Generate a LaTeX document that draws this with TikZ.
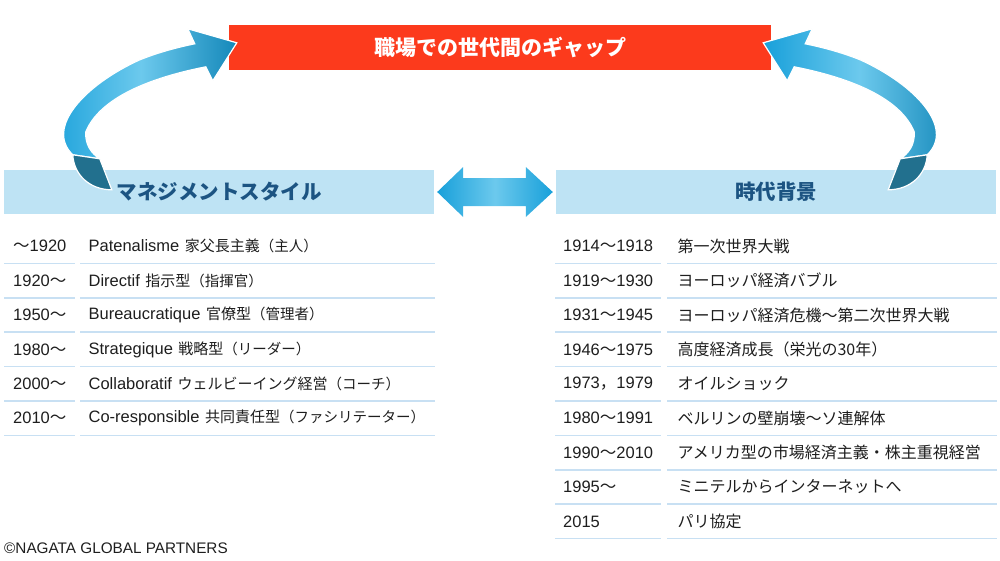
\documentclass[tikz,border=0pt]{standalone}
\usepackage{fontspec}
\setmainfont{Liberation Sans}
\newfontfamily\jpfont{Noto Sans CJK JP}
\usepackage{tikz}
\usetikzlibrary{positioning,calc}
\definecolor{gapred}{RGB}{252,58,28}
\definecolor{headblue}{RGB}{190,227,244}
\definecolor{headtext}{RGB}{28,84,130}
\definecolor{rulecol}{RGB}{200,224,243}
\definecolor{arrowdeep}{RGB}{24,160,218}
\definecolor{arrowpale}{RGB}{108,201,237}
\definecolor{tailblue}{RGB}{34,112,142}
\definecolor{bodytext}{RGB}{30,30,30}
\newcommand{\wave}{{\jpfont 〜}}
\newcommand{\jpname}[1]{{\fontsize{15}{18}\selectfont\jpfont #1}}
\newcommand{\rolenote}[1]{{\fontsize{14.5}{16}\selectfont\jpfont （#1）}}
% twisted ribbon, coordinates relative to the header's top left corner
\newcommand{\gapribbon}{%
  \path[ribbon] (69,-15) .. controls (41,-42) and (81,-85) .. (136,-110)
    .. controls (156,-118) and (176,-123) .. (191,-126) -- (184,-141) -- (233,-127)
    -- (209,-89) -- (202,-103) .. controls (146,-92) and (96,-72) .. (82,-38)
    .. controls (81,-25) and (88,-16) .. (96,-11) -- cycle;
  \path[ribbontail] (69,-15) -- (96,-11) -- (108,20) .. controls (86,20) and (70,5) .. (69,-15) -- cycle;}

\begin{document}
\begin{tikzpicture}[x=1pt, y=-1pt, font=\fontsize{16.5}{18}\selectfont, text=bodytext]
  \tikzstyle{titlebar}=[fill=gapred, minimum width=542pt, minimum height=45pt, inner sep=0pt, text=white, font=\fontsize{21}{24}\selectfont\jpfont\bfseries]
  \tikzstyle{headbar}=[fill=headblue, minimum height=44pt, inner sep=0pt, text=headtext, font=\fontsize{20.5}{24}\selectfont\jpfont\bfseries]
  \tikzstyle{msyear}=[minimum height=34pt, inner ysep=0pt, inner xsep=9pt, text width=53pt, align=left]
  \tikzstyle{msname}=[minimum height=34pt, inner ysep=0pt, inner xsep=8pt, text width=338pt, align=left]
  \tikzstyle{ctyear}=[minimum height=34pt, inner ysep=0pt, inner xsep=8pt, text width=90pt, align=left]
  \tikzstyle{ctevent}=[minimum height=34pt, inner ysep=0pt, inner xsep=10pt, text width=309pt, align=left, font=\fontsize{16}{18}\selectfont\jpfont]
  \tikzstyle{rowrule}=[draw=rulecol, line width=1.5pt]
  \tikzstyle{fatarrow}=[left color=arrowdeep, right color=arrowdeep, middle color=arrowpale]
  \tikzstyle{ribbon}=[left color=arrowdeep, right color=arrowdeep!85!black, middle color=arrowpale, draw=white, line width=1.2pt]
  \tikzstyle{ribbontail}=[fill=tailblue, draw=white, line width=1.2pt]
  \useasboundingbox (0,0) rectangle (1000,560);
  \node[titlebar] (gap) at (500,47.5) {職場での世代間のギャップ};
  \node[headbar, minimum width=430pt] (msh) at (219,192) {マネジメントスタイル};
  \node[headbar, minimum width=440pt] (ctxh) at (776,192) {時代背景};
  % management styles
  \node[msyear, anchor=north west] (ms1) at (4,229) {\wave 1920};
  \node[msyear, below=0pt of ms1] (ms2) {1920\wave};
  \node[msyear, below=0pt of ms2] (ms3) {1950\wave};
  \node[msyear, below=0pt of ms3] (ms4) {1980\wave};
  \node[msyear, below=0pt of ms4] (ms5) {2000\wave};
  \node[msyear, below=0pt of ms5] (ms6) {2010\wave};
  \node[msname, right=5pt of ms1] (msn1) {Patenalisme \jpname{家父長主義}\rolenote{主人}};
  \node[msname, right=5pt of ms2] (msn2) {Directif \jpname{指示型}\rolenote{指揮官}};
  \node[msname, right=5pt of ms3] (msn3) {Bureaucratique \jpname{官僚型}\rolenote{管理者}};
  \node[msname, right=5pt of ms4] (msn4) {Strategique \jpname{戦略型}\rolenote{リーダー}};
  \node[msname, right=5pt of ms5] (msn5) {Collaboratif \jpname{ウェルビーイング経営}\rolenote{コーチ}};
  \node[msname, right=5pt of ms6] (msn6) {Co-responsible \jpname{共同責任型}\rolenote{ファシリテーター}};
  % historical context
  \node[ctyear, anchor=north west] (ct1) at (555,229) {1914\wave 1918};
  \node[ctyear, below=0pt of ct1] (ct2) {1919\wave 1930};
  \node[ctyear, below=0pt of ct2] (ct3) {1931\wave 1945};
  \node[ctyear, below=0pt of ct3] (ct4) {1946\wave 1975};
  \node[ctyear, below=0pt of ct4] (ct5) {1973{\jpfont ，}1979};
  \node[ctyear, below=0pt of ct5] (ct6) {1980\wave 1991};
  \node[ctyear, below=0pt of ct6] (ct7) {1990\wave 2010};
  \node[ctyear, below=0pt of ct7] (ct8) {1995\wave};
  \node[ctyear, below=0pt of ct8] (ct9) {2015};
  \node[ctevent, right=6pt of ct1] (cte1) {第一次世界大戦};
  \node[ctevent, right=6pt of ct2] (cte2) {ヨーロッパ経済バブル};
  \node[ctevent, right=6pt of ct3] (cte3) {ヨーロッパ経済危機〜第二次世界大戦};
  \node[ctevent, right=6pt of ct4] (cte4) {高度経済成長（栄光の30年）};
  \node[ctevent, right=6pt of ct5] (cte5) {オイルショック};
  \node[ctevent, right=6pt of ct6] (cte6) {ベルリンの壁崩壊〜ソ連解体};
  \node[ctevent, right=6pt of ct7] (cte7) {アメリカ型の市場経済主義・株主重視経営};
  \node[ctevent, right=6pt of ct8] (cte8) {ミニテルからインターネットへ};
  \node[ctevent, right=6pt of ct9] (cte9) {パリ協定};
  \foreach \c in {ms1,ms2,ms3,ms4,ms5,ms6,msn1,msn2,msn3,msn4,msn5,msn6,ct1,ct2,ct3,ct4,ct5,ct6,ct7,ct8,ct9,cte1,cte2,cte3,cte4,cte5,cte6,cte7,cte8,cte9}
    \draw[rowrule] (\c.south west) -- (\c.south east);
  % arrows
  \path[fatarrow] ($(msh.east)+(3,0)$) -- ++(26,-25) -- ++(0,11) -- ($(ctxh.west)+(-30,-14)$) -- ++(0,-11)
    -- ($(ctxh.west)+(-3,0)$) -- ++(-27,25) -- ++(0,-11) -- ($(msh.east)+(29,14)$) -- ++(0,11) -- cycle;
  \begin{scope}[shift={(msh.north west)}]
    \gapribbon
  \end{scope}
  \begin{scope}[shift={(ctxh.north east)}, xscale=-1]
    \gapribbon
  \end{scope}
  \node[anchor=west, inner sep=0pt, font=\fontsize{15.3}{17}\selectfont] (credit) at (4,548) {©NAGATA GLOBAL PARTNERS};
\end{tikzpicture}
\end{document}
